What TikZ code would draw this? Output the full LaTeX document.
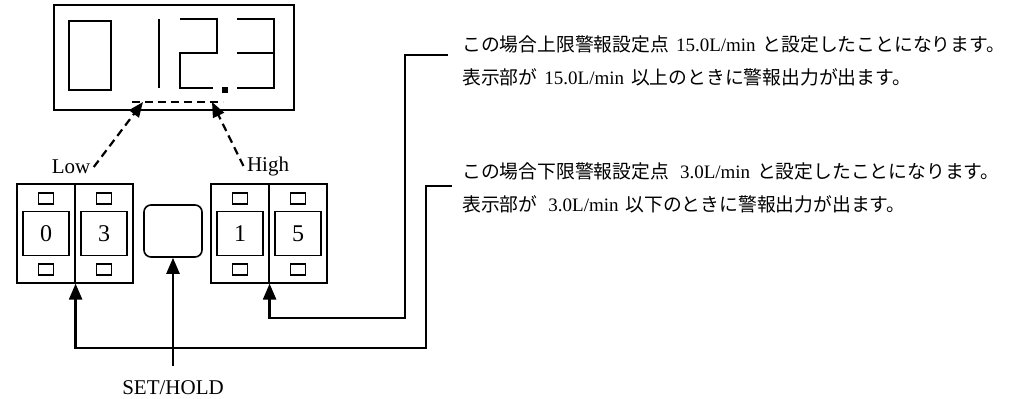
\documentclass[tikz,border=0pt]{standalone}
\usepackage{fontspec}
\usetikzlibrary{arrows.meta}
\newfontfamily\jpfont{Noto Sans CJK JP}
\newfontfamily\latfont{Liberation Serif}
\newcommand{\jp}{\fontsize{18.8}{22}\selectfont\jpfont}
\newcommand{\lat}{\fontsize{19}{22}\selectfont\latfont}
\tikzset{
  cell/.style={draw,line width=1.2pt,minimum width=58pt,minimum height=99pt,inner sep=0pt},
  digitbox/.style={draw,line width=1.2pt,minimum width=46pt,minimum height=44pt,inner sep=0pt,font=\fontsize{24}{28}\selectfont\latfont},
  led/.style={draw,line width=1.2pt,minimum width=15pt,minimum height=11pt,inner sep=0pt},
  seg/.style={line width=1.8pt},
  conn/.style={line width=2.4pt,-{Triangle[length=16pt,width=13pt]}},
  ptr/.style={line width=2.2pt,dash pattern=on 8pt off 5pt,-{Triangle[length=15pt,width=12pt]}},
  note/.style={anchor=west,inner sep=0pt,font=\jp},
  lbl/.style={font=\fontsize{21}{24}\selectfont\latfont}
}
\begin{document}
\begin{tikzpicture}[x=1pt,y=-1pt]
         \fill[white] (0,0) rectangle (1021,398) ;
         % display
         \node[draw,line width=1.6pt,minimum width=240pt,minimum height=105pt] (disp) at (174,57.5) {} ;
         \draw[seg] (69,21) rectangle (111,90) ; % 0
         \draw[seg] (159,19) -- (159,88) ; % 1
         \draw[seg] (180,19) -- (217,19) -- (217,53) -- (180,53) -- (180,88) -- (213,88) ; % 2
         \draw[seg] (237,19) -- (274,19) -- (274,88) -- (237,88) (237,53) -- (274,53) ; % 3
         \fill (222,87) rectangle (228,93) ;
         \draw[line width=2.2pt,dash pattern=on 8pt off 5pt] (132,102) -- (223,102) ;
         \coordinate (pL) at (143,102) ;
         \coordinate (pH) at (212,102) ;
         % switches
         \foreach \c/\x/\v in {l1/46/0,l2/104/3,h1/240/1,h2/298/5} {
           \node[cell] (\c) at (\x,233.5) {} ;
           \node[digitbox] (\c d) at (\c) {\v} ;
           \node[led] (\c t) at ([yshift=35pt]\c.center) {} ;
           \node[led] (\c b) at ([yshift=-36pt]\c.center) {} ;
         }
         \node[draw,line width=1.6pt,rounded corners=7pt,minimum width=58pt,minimum height=52pt] (set) at (173,231) {} ;
         \node[lbl] (low) at (71,167) {Low} ;
         \node[lbl] (high) at (268,166) {High} ;
         \draw[ptr] (low.east) -- (pL) ;
         \draw[ptr] (high.west) -- (pH) ;
         % connectors
         \coordinate (setin) at (173,366) ;
         \coordinate (hin) at (448,55) ;
         \coordinate (lin) at (452,186) ;
         \draw[conn] (setin) -- (set.south) ;
         \node[lbl] (setlbl) at (173,388) {SET/HOLD} ;
         \draw[conn] (hin) -| (405,318) -| (h1.south east) ;
         \draw[conn] (lin) -| (426,348) -| (l1.south east) ;
         % notes
         \node[note] (n1) at (462,44) {この場合上限警報設定点{\lat\hspace{7pt}15.0L/min\hspace{7pt}}と設定したことになります。} ;
         \node[note] (n2) at (462,77) {表示部が{\lat\hspace{7pt}15.0L/min\hspace{7pt}}以上のときに警報出力が出ます。} ;
         \node[note] (n3) at (462,171) {この場合下限警報設定点{\lat\hspace{11pt}3.0L/min\hspace{7pt}}と設定したことになります。} ;
         \node[note] (n4) at (462,204) {表示部が{\lat\hspace{11pt}3.0L/min\hspace{7pt}}以下のときに警報出力が出ます。} ;
       \end{tikzpicture}
\end{document}
